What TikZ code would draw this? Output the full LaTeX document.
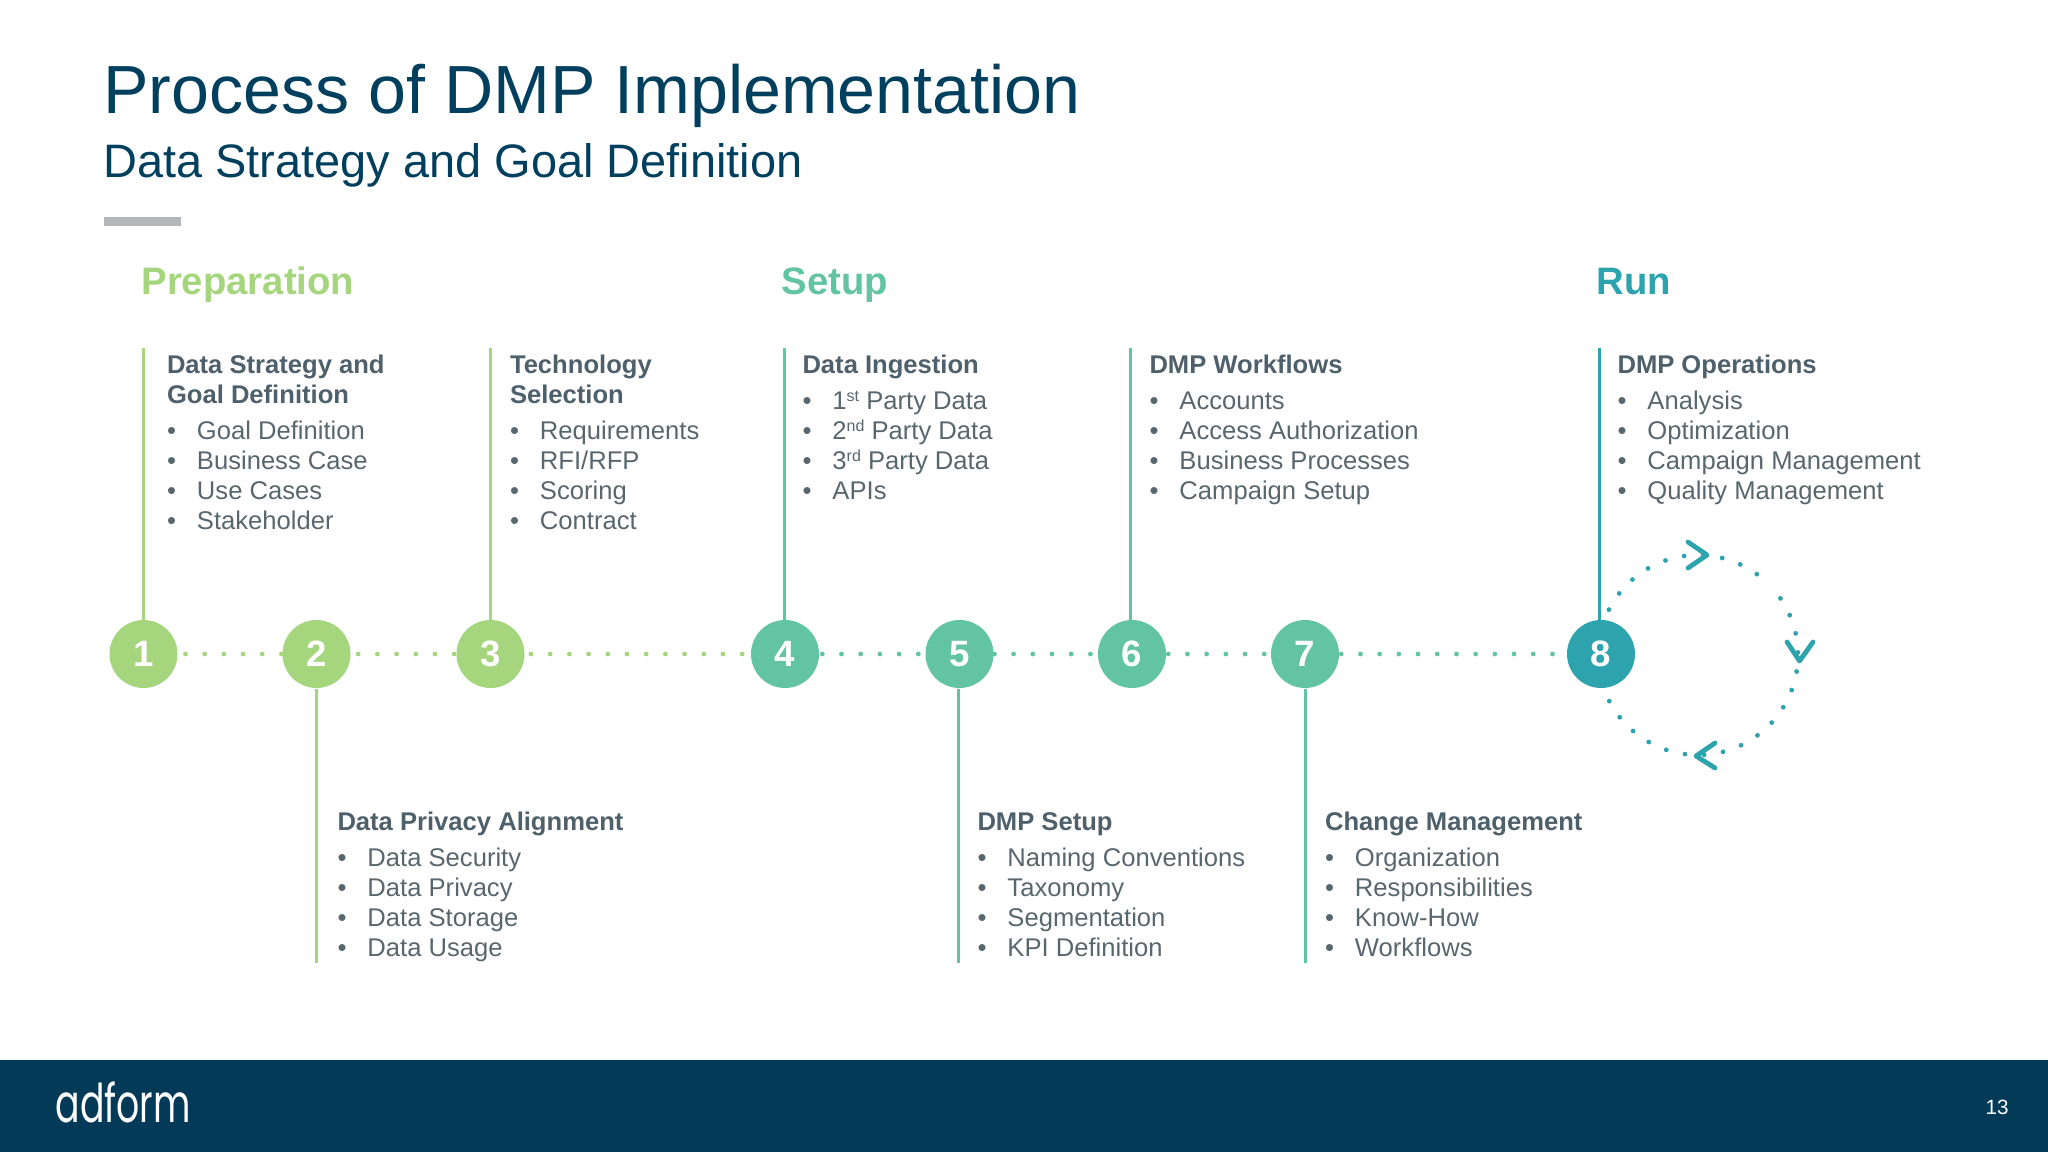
\documentclass[tikz,border=0pt]{standalone}
\usepackage{graphicx}
\usepackage{fontspec}
\setmainfont{Liberation Sans}
\newfontfamily\logofont{Poppins}
\definecolor{headcol}{RGB}{78,96,107}
\newcommand{\itm}[1]{\makebox[22.5pt][l]{\textbullet}#1}
\newcommand{\hd}[1]{\textcolor{headcol}{\textbf{#1}}}
\newcommand{\sps}[1]{\raisebox{0.3em}{\fontsize{12}{12}\selectfont #1}}
\tikzset{every picture/.style={line width=0.75pt},
  prep/.style={color={rgb, 255:red, 165; green, 214; blue, 126 }},
  setp/.style={color={rgb, 255:red, 98; green, 196; blue, 163 }},
  runn/.style={color={rgb, 255:red, 45; green, 163; blue, 174 }},
  num/.style={circle,minimum size=51pt,inner sep=0pt,font=\fontsize{27.5}{27.5}\selectfont\bfseries},
  stem/.style={line width=2.25pt},
  dots/.style={line width=3.6pt,line cap=round,dash pattern=on 0pt off 14.4pt},
  chev/.style={line width=3.6pt,line cap=round,line join=round,color={rgb, 255:red, 45; green, 163; blue, 174 }},
  block/.style={anchor=north west,inner sep=0pt,align=left,text={rgb, 255:red, 88; green, 102; blue, 110 },font=\fontsize{19.2}{22.5}\selectfont},
  phase/.style={anchor=base west,inner sep=0pt,font=\fontsize{28.7}{30}\selectfont\bfseries}}
\begin{document}
\begin{tikzpicture}[x=0.75pt,y=0.75pt,yscale=-1,xscale=1]
\useasboundingbox (0,0) rectangle (2048,1152);

%Footer and title bar
\fill [color={rgb, 255:red, 2; green, 58; blue, 88 }] (0,1060) rectangle (2048,1152);
\fill [color={rgb, 255:red, 181; green, 184; blue, 187 }] (104,217) rectangle (181,226);

% Title
\draw (103,64) node (title) [anchor=north west][inner sep=0pt] [text={rgb, 255:red, 0; green, 63; blue, 94 },font=\fontsize{51.1}{55}\selectfont] {Process of DMP Implementation};
\draw (103,142.5) node (subtitle) [anchor=north west][inner sep=0pt] [text={rgb, 255:red, 0; green, 63; blue, 94 },font=\fontsize{35.2}{38}\selectfont] {Data Strategy and Goal Definition};

% Phases
\draw (141,294) node (phprep) [phase,prep] {Preparation};
\draw (781,294) node (phsetup) [phase,setp] {Setup};
\draw (1596,294) node (phrun) [phase,runn] {Run};

% Steps
\node (n1) [num,fill,prep] at (143.5,654) {\textcolor{white}{1}};
\node (n2) [num,fill,prep] at (316.5,654) {\textcolor{white}{2}};
\node (n3) [num,fill,prep] at (490.5,654) {\textcolor{white}{3}};
\node (n4) [num,fill,setp] at (785,654) {\textcolor{white}{4}};
\node (n5) [num,fill,setp] at (959.5,654) {\textcolor{white}{5}};
\node (n6) [num,fill,setp] at (1132,654) {\textcolor{white}{6}};
\node (n7) [num,fill,setp] at (1305,654) {\textcolor{white}{7}};
\node (n8) [num,fill,runn] at (1601,654) {\textcolor{white}{8}};

% Dotted links
\draw [dots,prep,shorten <=5.6pt] (n1) -- (n2);
\draw [dots,prep,shorten <=5.4pt] (n2) -- (n3);
\draw [dots,prep,shorten <=4.5pt] (n3) -- (n4);
\draw [dots,setp,shorten <=2.1pt] (n4) -- (n5);
\draw [dots,setp,shorten <=0.3pt] (n5) -- (n6);
\draw [dots,setp,shorten <=1.3pt] (n6) -- (n7);
\draw [dots,setp,shorten <=1.3pt] (n7) -- (n8);

% Stem ends
\coordinate (c1) at (143.5,348);
\coordinate (c2) at (316.5,963);
\coordinate (c3) at (490.5,348);
\coordinate (c4) at (784,348);
\coordinate (c5) at (958.5,963);
\coordinate (c6) at (1130.5,348);
\coordinate (c7) at (1305,963);
\coordinate (c8) at (1599.5,348);

\draw [stem,prep] (c1) -- (c1 |- n1.north);
\draw [stem,prep] (c2) -- (c2 |- n2.south);
\draw [stem,prep] (c3) -- (c3 |- n3.north);
\draw [stem,setp] (c4) -- (c4 |- n4.north);
\draw [stem,setp] (c5) -- (c5 |- n5.south);
\draw [stem,setp] (c6) -- (c6 |- n6.north);
\draw [stem,setp] (c7) -- (c7 |- n7.south);
\draw [stem,runn] (c8) -- (c8 |- n8.north);

% Text blocks
\draw (166.5,354) node (t1) [block] {\hd{Data Strategy and}\\\hd{Goal Definition}\\[4.5pt]\itm{Goal Definition}\\\itm{Business Case}\\\itm{Use Cases}\\\itm{Stakeholder}};
\draw (509.5,354) node (t3) [block] {\hd{Technology}\\\hd{Selection}\\[4.5pt]\itm{Requirements}\\\itm{RFI/RFP}\\\itm{Scoring}\\\itm{Contract}};
\draw (802,354) node (t4) [block] {\hd{Data Ingestion}\\[4.5pt]\itm{1\sps{st} Party Data}\\\itm{2\sps{nd} Party Data}\\\itm{3\sps{rd} Party Data}\\\itm{APIs}};
\draw (1149,354) node (t6) [block] {\hd{DMP Workflows}\\[4.5pt]\itm{Accounts}\\\itm{Access Authorization}\\\itm{Business Processes}\\\itm{Campaign Setup}};
\draw (1617,354) node (t8) [block] {\hd{DMP Operations}\\[4.5pt]\itm{Analysis}\\\itm{Optimization}\\\itm{Campaign Management}\\\itm{Quality Management}};
\draw (337,811) node (t2) [block] {\hd{Data Privacy Alignment}\\[4.5pt]\itm{Data Security}\\\itm{Data Privacy}\\\itm{Data Storage}\\\itm{Data Usage}};
\draw (977,812.5) node (t5) [block] {\hd{DMP Setup}\\[4.5pt]\itm{Naming Conventions}\\\itm{Taxonomy}\\\itm{Segmentation}\\\itm{KPI Definition}};
\draw (1324.5,811) node (t7) [block] {\hd{Change Management}\\[4.5pt]\itm{Organization}\\\itm{Responsibilities}\\\itm{Know-How}\\\itm{Workflows}};

% Loop around step 8
\coordinate (loop) at (1698,655);
\draw [dots,runn] (loop) ++(207:100) arc (207:306.5:100);
\draw [dots,runn] (loop) ++(325.5:100) arc (325.5:513:100);
\draw [chev] (1688,542) -- (1707,555) -- (1688,568);
\draw [chev] (1787,642) -- (1799.5,661) -- (1813,642);
\draw [chev] (1715,743) -- (1696,756) -- (1715,768);

% Footer text
\draw (55,1122) node (logo) [anchor=base west][inner sep=0pt] [text=white,font=\fontsize{40}{40}\selectfont\logofont] {\scalebox{0.68}[1]{adform}};
\draw (1985,1114) node (page) [anchor=base west][inner sep=0pt] [text=white,font=\fontsize{15.5}{16}\selectfont] {13};
\end{tikzpicture}
\end{document}
